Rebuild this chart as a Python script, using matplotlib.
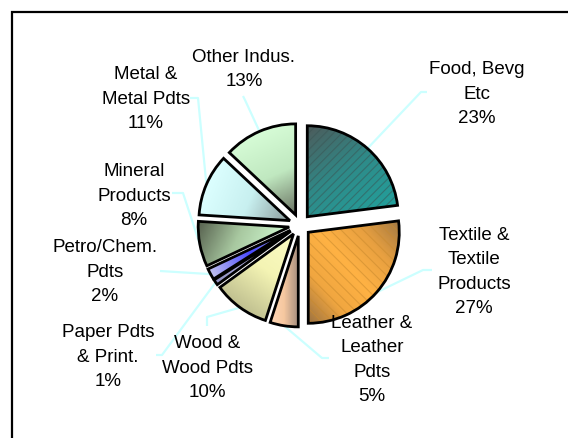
import numpy as np
import matplotlib
matplotlib.use("Agg")
import matplotlib.pyplot as plt
import matplotlib.patches as mpatches
from matplotlib.colors import LinearSegmentedColormap

# Industry shares (percent), clockwise from 12 o'clock
categories = ["Food, Bevg\nEtc", "Textile &\nTextile\nProducts", "Leather &\nLeather\nPdts",
              "Wood &\nWood Pdts", "Paper Pdts\n& Print.", "Petro/Chem.\nPdts",
              "Mineral\nProducts", "Metal &\nMetal Pdts", "Other Indus."]
shares = [23, 27, 5, 10, 1, 2, 8, 11, 13]

# Fill styles: gradient direction (deg) and colour stops, optional hatch
fills = [
    (-55, ["#4e5a5a", "#2f8a88", "#22a09c"], "////", "#3b5554"),
    (40, ["#9c7240", "#f0a640", "#ffb244", "#e8a040", "#a47a44"], "\\\\\\", "#c98a2e"),
    (0, ["#ffd8b8", "#f6c8a0", "#a89080"], None, None),
    (-126, ["#fcfcc4", "#f4f4b4", "#c0c090"], None, None),
    (-146, ["#d4d4f4", "#b8b8e8", "#9090c0"], None, None),
    (-151, ["#c8c8f4", "#4848ff", "#c0c0ee"], None, None),
    (-25, ["#56604e", "#a8c8a0", "#d0f8d0"], None, None),
    (-23, ["#dcffff", "#c8f0f0", "#8a9a9a"], None, None),
    (-66, ["#d6fcd6", "#c0e8c0", "#687060"], None, None),
]

W, H = 568, 438
FS = 13.5          # points at 100 dpi
PITCH = 24.5       # pixels between label lines
LEADER = "#ccffff"
RADIUS = 91
OFFSET = 11        # how far each slice is pulled out from the centre

# Label block centres and leader-line bends, in pixels from the top-left corner
label_pos = [(477, 92), (474, 270), (372, 358), (207, 366), (108, 355),
             (105, 270), (134, 194), (146, 97), (244, 67.5)]
leader_bends = [
    [(421, 92), (427, 92)],
    [(423, 270), (432, 270)],
    [(322, 358), (329, 358)],
    [(207, 317), (207, 326)],
    [(162, 355), (156, 355)],
    [(160, 271)],
    [(183, 193), (172, 193)],
    [(198, 98), (190, 98)],
    [(245, 100), (243, 96)],
]


def Y(y):
    return H - y


fig = plt.figure(figsize=(W / 100, H / 100), dpi=100)
ax = fig.add_axes([0, 0, 1, 1])
plt.rcParams["hatch.linewidth"] = 0.8

wedges, _ = ax.pie(shares, startangle=90, counterclock=False,
                   center=(300, Y(225)), radius=RADIUS,
                   explode=[OFFSET] * len(shares),
                   wedgeprops=dict(facecolor="none", edgecolor="black",
                                   linewidth=2.0, zorder=4))

for idx, (w, (ang, stops, hatch, hcol)) in enumerate(zip(wedges, fills)):
    cx, cy = w.center
    r = w.r
    a = np.radians(np.linspace(w.theta1, w.theta2, 60))
    px = np.concatenate([[cx], cx + r * np.cos(a)])
    py = np.concatenate([[cy], cy + r * np.sin(a)])
    d = np.radians(ang)
    proj = px * np.cos(d) + py * np.sin(d)
    lo, hi = proj.min(), proj.max()
    xs = np.linspace(cx - r, cx + r, 240)
    ys = np.linspace(cy - r, cy + r, 240)
    X, Yg = np.meshgrid(xs, ys)
    T = np.clip((X * np.cos(d) + Yg * np.sin(d) - lo) / (hi - lo), 0, 1)
    cmap = LinearSegmentedColormap.from_list("shade", stops)
    im = ax.imshow(T, cmap=cmap, vmin=0, vmax=1, origin="lower",
                   extent=[cx - r, cx + r, cy - r, cy + r],
                   interpolation="bilinear", zorder=2)
    im.set_clip_path(w)
    if hatch:
        hw = mpatches.Wedge((cx, cy), r, w.theta1, w.theta2, facecolor="none",
                            edgecolor=hcol, linewidth=0, hatch=hatch, alpha=0.55,
                            zorder=3)
        ax.add_patch(hw)

    # leader line from the middle of the arc out to the label
    mid = np.radians((w.theta1 + w.theta2) / 2)
    sx, sy = cx + r * np.cos(mid), cy + r * np.sin(mid)
    pts = [(sx, sy)] + [(bx, Y(by)) for bx, by in leader_bends[idx]]
    ax.plot([p[0] for p in pts], [p[1] for p in pts], color=LEADER,
            linewidth=1.6, zorder=1, solid_capstyle="butt")

# Labels: category name and share, one text per line
for name, val, (lx, ly) in zip(categories, shares, label_pos):
    lines = name.split("\n") + [f"{val}%"]
    n = len(lines)
    for i, t in enumerate(lines):
        yc = ly + (i - (n - 1) / 2) * PITCH
        ax.text(lx, Y(yc + 6.7), t, ha="center", va="baseline",
                fontsize=FS, family=["Liberation Sans", "DejaVu Sans"],
                color="black", zorder=6)

# Frame around the chart area
ax.plot([12, 12, W + 10], [-10, Y(12), Y(12)], color="black", linewidth=1.6,
        zorder=5, solid_joinstyle="miter")

ax.set_xlim(0, W)
ax.set_ylim(0, H)
ax.set_aspect("auto")
ax.axis("off")
fig.savefig("out.png", dpi=100)
